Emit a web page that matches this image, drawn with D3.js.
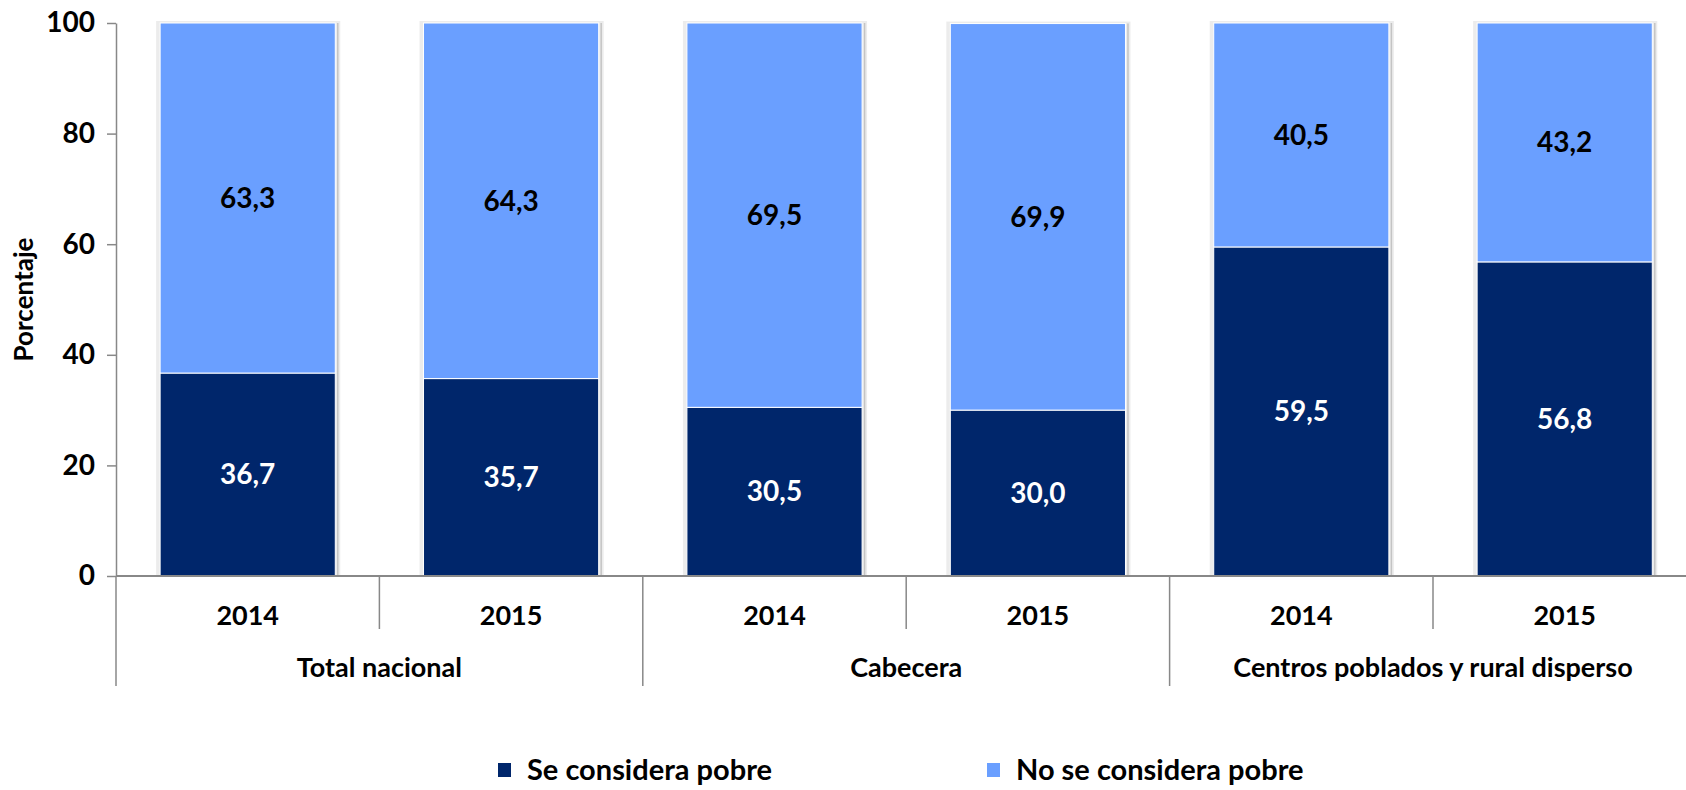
<!DOCTYPE html>
<html lang="es">
<head>
  <meta charset="UTF-8">
  <title>Percepción de pobreza</title>
  <script src="https://cdn.jsdelivr.net/npm/d3@7"></script>
  <style>
    body { margin: 0; background: #fff; }
    text { font-family: Lato, "Open Sans", sans-serif; font-weight: bold; }
  </style>
</head>
<body>
<script>
  // datos
  const grupos = ["Total nacional", "Cabecera", "Centros poblados y rural disperso"];
  const anios = ["2014", "2015"];
  const pobre = [36.7, 35.7, 30.5, 30.0, 59.5, 56.8];
  const noPobre = [63.3, 64.3, 69.5, 69.9, 40.5, 43.2];
  const series = ["Se considera pobre", "No se considera pobre"];
  const yTicks = [0, 20, 40, 60, 80, 100];

  const w = 1686, h = 790;
  const colores = ["#00266b", "#6a9fff"];

  const svg = d3.select("body").append("svg").attr("width", w).attr("height", h);

  // cada barra = grupo + año
  const barras = [];
  grupos.forEach((g, gi) => anios.forEach((a, ai) => {
    const i = gi * anios.length + ai;
    barras.push({ id: g + "|" + a, grupo: g, anio: a, p: pobre[i], np: noPobre[i] });
  }));

  const x0 = 116, paso = 263.4;
  const x = d3.scaleBand()
    .domain(barras.map(d => d.id))
    .range([x0, x0 + paso * barras.length])
    .paddingInner(0.335).paddingOuter(0.1675);
  const y = d3.scaleLinear().domain([0, 100]).range([576, 23]);

  // sombra de las barras
  svg.selectAll("rect.sombra").data(barras).enter().append("rect")
    .attr("x", d => x(d.id) - 4)
    .attr("y", d => y(d.p + d.np) - 2)
    .attr("width", x.bandwidth() + 9)
    .attr("height", d => y(0) - y(d.p + d.np) + 2)
    .attr("fill", "#ececec");
  svg.selectAll("line.sombra").data(barras).enter().append("line")
    .attr("x1", d => x(d.id) + x.bandwidth() + 2.5)
    .attr("x2", d => x(d.id) + x.bandwidth() + 2.5)
    .attr("y1", d => y(d.p + d.np))
    .attr("y2", y(0))
    .attr("stroke", "#c4c4c4").attr("stroke-width", 1.5);

  // segmentos
  svg.selectAll("rect.pobre").data(barras).enter().append("rect")
    .attr("x", d => x(d.id)).attr("width", x.bandwidth())
    .attr("y", d => y(d.p)).attr("height", d => y(0) - y(d.p))
    .attr("fill", colores[0]).attr("stroke", "#fff").attr("stroke-width", 1);
  svg.selectAll("rect.nopobre").data(barras).enter().append("rect")
    .attr("x", d => x(d.id)).attr("width", x.bandwidth())
    .attr("y", d => y(d.p + d.np)).attr("height", d => y(d.p) - y(d.p + d.np))
    .attr("fill", colores[1]).attr("stroke", "#fff").attr("stroke-width", 1);

  // etiquetas de datos
  const fmt = v => v.toFixed(1).replace(".", ",");
  svg.selectAll("text.lp").data(barras).enter().append("text")
    .attr("x", d => x(d.id) + x.bandwidth() / 2)
    .attr("y", d => y(d.p / 2)).attr("dy", "0.35em")
    .attr("text-anchor", "middle").attr("font-size", 28).attr("fill", "#fff")
    .text(d => fmt(d.p));
  svg.selectAll("text.lnp").data(barras).enter().append("text")
    .attr("x", d => x(d.id) + x.bandwidth() / 2)
    .attr("y", d => y(d.p + d.np / 2)).attr("dy", "0.35em")
    .attr("text-anchor", "middle").attr("font-size", 28).attr("fill", "#000")
    .text(d => fmt(d.np));

  // eje y
  const ejeY = svg.append("g").attr("transform", "translate(" + x0 + ",0)")
    .call(d3.axisLeft(y).tickValues(yTicks).tickSize(9).tickPadding(12).tickSizeOuter(0));
  ejeY.selectAll("path, line").attr("stroke", "#888").attr("stroke-width", 1.5);
  ejeY.selectAll("text").attr("font-size", 28).attr("fill", "#000")
    .style("font-family", "Lato, sans-serif").style("font-weight", "bold");

  svg.append("text")
    .attr("transform", "translate(24," + (y(50)) + ") rotate(-90)")
    .attr("text-anchor", "middle").attr("dy", "0.35em").attr("font-size", 26).attr("fill", "#000")
    .text("Porcentaje");

  // eje x
  svg.append("line").attr("x1", x0).attr("x2", w).attr("y1", y(0)).attr("y2", y(0))
    .attr("stroke", "#888").attr("stroke-width", 2);

  const bordes = barras.map((d, i) => x0 + paso * i);
  svg.selectAll("line.sep").data(bordes).enter().append("line")
    .attr("x1", d => d).attr("x2", d => d)
    .attr("y1", y(0))
    .attr("y2", (d, i) => i % anios.length === 0 ? 686 : 629)
    .attr("stroke", "#888").attr("stroke-width", 1.5);

  svg.selectAll("text.anio").data(barras).enter().append("text")
    .attr("x", d => x(d.id) + x.bandwidth() / 2).attr("y", 616).attr("dy", "0.35em")
    .attr("text-anchor", "middle").attr("font-size", 27).attr("fill", "#000")
    .text(d => d.anio);

  svg.selectAll("text.grupo").data(grupos).enter().append("text")
    .attr("x", (d, i) => x0 + paso * anios.length * (i + 0.5)).attr("y", 668).attr("dy", "0.35em")
    .attr("text-anchor", "middle").attr("font-size", 27).attr("fill", "#000")
    .text(d => d);

  // leyenda
  const legX = [498, 987];
  const leg = svg.selectAll("g.leg").data(series).enter().append("g")
    .attr("transform", (d, i) => "translate(" + legX[i] + ",770)");
  leg.append("rect").attr("x", 0).attr("y", -7).attr("width", 13).attr("height", 14)
    .attr("fill", (d, i) => colores[i]);
  leg.append("text").attr("x", 29).attr("dy", "0.35em").attr("font-size", 29).attr("fill", "#000")
    .text(d => d);
</script>
</body>
</html>
